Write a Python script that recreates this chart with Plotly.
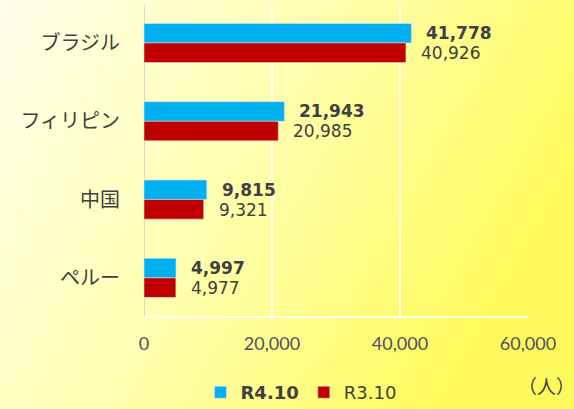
import base64
import plotly.graph_objects as go

categories = ["ブラジル", "フィリピン", "中国", "ペルー"]
r4_values = [41778, 21943, 9815, 4997]
r3_values = [40926, 20985, 9321, 4977]
series_names = ["R4.10", "R3.10"]
x_ticks = [0, 20000, 40000, 60000]
x_tick_labels = ["0", "20,000", "40,000", "60,000"]
unit_label = "（人）"

W, H = 574, 409
ML, MR, MT, MB = 144, 46, 5, 92
PW, PH = W - ML - MR, H - MT - MB

svg = f'''<svg xmlns="http://www.w3.org/2000/svg" width="{W}" height="{H}" viewBox="0 0 {W} {H}" preserveAspectRatio="none">
<defs><linearGradient id="g" x1="0" y1="0" x2="1" y2="0.4">
<stop offset="0" stop-color="#FFFFEC"/>
<stop offset="0.5" stop-color="#FFFFB0"/>
<stop offset="1" stop-color="#FFFA5C"/>
</linearGradient></defs>
<rect width="{W}" height="{H}" fill="url(#g)"/></svg>'''
bg = "data:image/svg+xml;base64," + base64.b64encode(svg.encode()).decode()

BLUE = "#00B0F0"
RED = "#C00000"
TXT = "#404040"
NUMFONT = "DejaVu Sans"

fig = go.Figure()
fig.add_trace(go.Bar(y=categories, x=r4_values, orientation="h",
                     name=f"<b>{series_names[0]}</b>", marker_color=BLUE))
fig.add_trace(go.Bar(y=categories, x=r3_values, orientation="h",
                     name=series_names[1], marker_color=RED))

annotations = []
for cat, v in zip(categories, r4_values):
    annotations.append(dict(x=v, y=cat, text=f"<b>{v:,}</b>", xanchor="left", yanchor="middle",
                            xshift=13, yshift=10, showarrow=False,
                            font=dict(family=NUMFONT, size=17, color=TXT)))
for cat, v in zip(categories, r3_values):
    annotations.append(dict(x=v, y=cat, text=f"{v:,}", xanchor="left", yanchor="middle",
                            xshift=13, yshift=-10, showarrow=False,
                            font=dict(family=NUMFONT, size=17, color=TXT)))
annotations.append(dict(x=(546 - ML) / PW, y=-(385 - MT - PH) / PH, xref="paper", yref="paper",
                        text=unit_label, xanchor="center", yanchor="middle", showarrow=False,
                        font=dict(family="Noto Sans CJK JP", size=19, color=TXT)))

fig.update_layout(
    width=W, height=H,
    margin=dict(l=ML, r=MR, t=MT, b=MB, pad=0),
    paper_bgcolor="rgba(0,0,0,0)",
    plot_bgcolor="rgba(0,0,0,0)",
    barmode="group", bargap=0.5, bargroupgap=0,
    images=[dict(source=bg, xref="paper", yref="paper",
                 x=-ML / PW, y=1 + MT / PH, sizex=W / PW, sizey=H / PH,
                 xanchor="left", yanchor="top", sizing="stretch", layer="below")],
    xaxis=dict(range=[0, 60000], tickvals=x_ticks, ticktext=x_tick_labels,
               showgrid=True, gridcolor="rgba(255,255,255,0.85)", gridwidth=1.5,
               zeroline=False, showline=False, ticks="", ticklabelstandoff=14,
               tickfont=dict(family="Lato", size=18, color="#505060")),
    yaxis=dict(type="category", range=[3.5, -0.485], showgrid=False, zeroline=False,
               showline=False, ticks="", ticklabelstandoff=23,
               tickfont=dict(family="Noto Sans CJK JP", size=20, color=TXT)),
    legend=dict(orientation="h", x=(301 - ML) / PW, xanchor="center",
                yref="container", y=(H - 374) / H, yanchor="top",
                bgcolor="rgba(0,0,0,0)", font=dict(family=NUMFONT, size=18, color=TXT),
                itemwidth=30, tracegroupgap=0),
    annotations=annotations,
    showlegend=True,
    shapes=[
        dict(type="line", xref="x", yref="paper", x0=0, x1=0, y0=0, y1=1,
             line=dict(color="#D8D8D0", width=2), layer="below"),
        dict(type="line", xref="paper", yref="paper", x0=0, x1=1, y0=0, y1=0,
             line=dict(color="rgba(255,255,255,0.85)", width=2), layer="below"),
    ],
)

fig.write_html("out.html", config={"displayModeBar": False},
               post_script="document.body.style.margin='0';")
